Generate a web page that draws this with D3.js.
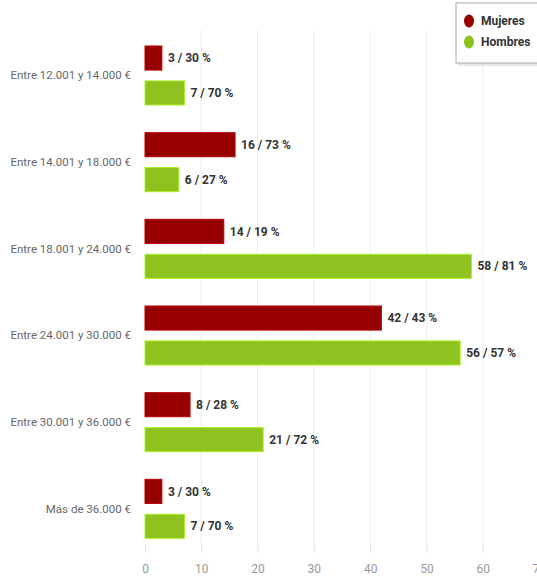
<!DOCTYPE html>
<head>
  <meta charset="utf-8">
  <script src="https://cdnjs.cloudflare.com/ajax/libs/d3/7.8.5/d3.min.js"></script>
</head>

<style>
body {
  margin: 0;
  background-color: #fff;
  font-family: Roboto, "DejaVu Sans", sans-serif;
}
.cat { fill: #666; font-size: 11.5px; }
.val { fill: #333; font-size: 12px; font-weight: bold; }
.tick text { fill: #999; font-size: 12px; font-family: Roboto, sans-serif; }
</style>

<body>
  <svg id='chart' width='537' height='578'></svg>
</body>

<script>

var categories = ['Entre 12.001 y 14.000 €', 'Entre 14.001 y 18.000 €', 'Entre 18.001 y 24.000 €',
                  'Entre 24.001 y 30.000 €', 'Entre 30.001 y 36.000 €', 'Más de 36.000 €'];
var mujeres = [3, 16, 14, 42, 8, 3];
var mujeresPct = [30, 73, 19, 43, 28, 30];
var hombres = [7, 6, 58, 56, 21, 7];
var hombresPct = [70, 27, 81, 57, 72, 70];
var ticks = [0, 10, 20, 30, 40, 50, 60, 70];
var seriesNames = ['Mujeres', 'Hombres'];
var colours = ['#960000', '#8dc21f'];

var svg = d3.select('#chart');

var x = d3.scaleLinear().domain([0, 70]).range([145, 539]);
var y = d3.scaleBand().domain(categories).range([32, 552]);
var inner = d3.scaleBand().domain(seriesNames).range([14, 73]).paddingInner(0.31);

// grid
svg.selectAll('line.grid')
  .data(ticks.slice(1))
  .enter().append('line')
    .attr('class', 'grid')
    .attr('x1', d => x(d)).attr('x2', d => x(d))
    .attr('y1', 30).attr('y2', 545)
    .attr('stroke', '#ececec');

var xAxis = d3.axisBottom(x).tickValues(ticks).tickSize(8).tickPadding(11);
var ax = svg.append('g').attr('transform', 'translate(0,545)').call(xAxis);
ax.select('.domain').remove();
ax.selectAll('.tick line').attr('stroke', '#ddd');

var groups = svg.selectAll('g.cat')
  .data(categories)
  .enter().append('g')
    .attr('transform', d => 'translate(0,' + y(d) + ')');

groups.append('text')
  .attr('class', 'cat')
  .attr('x', 131)
  .attr('y', y.bandwidth() / 2)
  .attr('dy', '0.35em')
  .attr('text-anchor', 'end')
  .text(d => d);

var series = [
  {name: 'Mujeres', vals: mujeres, pct: mujeresPct, colour: colours[0]},
  {name: 'Hombres', vals: hombres, pct: hombresPct, colour: colours[1]}
];

series.forEach(function(s) {
  groups.append('rect')
    .attr('x', x(0))
    .attr('y', inner(s.name))
    .attr('width', (d, i) => x(s.vals[i]) - x(0))
    .attr('height', inner.bandwidth())
    .attr('fill', s.colour)
    .attr('stroke', d3.color(s.colour).brighter(0.6))
    .attr('stroke-width', 1);

  groups.append('text')
    .attr('class', 'val')
    .attr('x', (d, i) => x(s.vals[i]) + 6)
    .attr('y', inner(s.name) + inner.bandwidth() / 2)
    .attr('dy', '0.35em')
    .text((d, i) => s.vals[i] + ' / ' + s.pct[i] + ' %');
});

// legend
var lg = svg.append('g').attr('transform', 'translate(456,3)');
lg.append('rect')
  .attr('x', 2).attr('y', 2).attr('width', 82).attr('height', 61)
  .attr('fill', '#e6e6e6');
lg.append('rect')
  .attr('width', 82).attr('height', 60)
  .attr('fill', '#fff').attr('stroke', '#aaa');
seriesNames.forEach(function(n, i) {
  lg.append('ellipse')
    .attr('cx', 13).attr('cy', 18 + i * 21)
    .attr('rx', 5).attr('ry', 6.5)
    .attr('fill', colours[i]);
  lg.append('text')
    .attr('x', 25).attr('y', 18 + i * 21)
    .attr('dy', '0.35em')
    .attr('fill', '#333')
    .style('font-size', '12px')
    .style('font-weight', 'bold')
    .text(n);
});

</script>
